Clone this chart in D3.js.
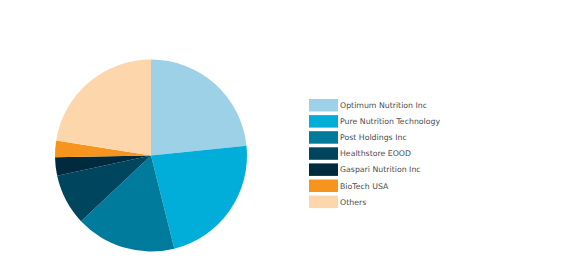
<!DOCTYPE html>
<html>
<head>
<meta charset="utf-8">
<script src="https://cdn.jsdelivr.net/npm/d3@7/dist/d3.min.js"></script>
<style>
  html, body { margin: 0; padding: 0; background: #ffffff; }
  svg { display: block; }
</style>
</head>
<body>
<svg id="chart" width="572" height="260"></svg>
<script>
const categories = ["Optimum Nutrition Inc", "Pure Nutrition Technology", "Post Holdings Inc", "Healthstore EOOD", "Gaspari Nutrition Inc", "BioTech USA", "Others"];
const values = [23.4, 22.7, 16.9, 8.6, 3.1, 2.8, 22.5];
const colors = ["#9dd1e8", "#00aed9", "#007b9b", "#00455e", "#002a3d", "#f7941d", "#fdd6ab"];

const svg = d3.select("#chart");
const cx = 151, cy = 155.5, r = 96;

const pie = d3.pie().sort(null).value(d => d.v);
const arc = d3.arc().innerRadius(0).outerRadius(r);
const data = categories.map((c, i) => ({ c, v: values[i], col: colors[i] }));

svg.append("g").attr("transform", `translate(${cx},${cy})`)
  .selectAll("path").data(pie(data)).join("path")
  .attr("d", arc)
  .attr("fill", d => d.data.col);

const y = d3.scalePoint().domain(categories).range([99, 99 + 16.1 * 6]);
const lg = svg.append("g");
const rows = lg.selectAll("g").data(data).join("g")
  .attr("transform", d => `translate(309,${y(d.c)})`);
rows.append("rect").attr("width", 29).attr("height", 12.5).attr("fill", d => d.col);
rows.append("text").attr("x", 31).attr("y", 6.5)
  .attr("dominant-baseline", "central")
  .attr("font-family", "DejaVu Sans, Verdana, sans-serif")
  .attr("font-size", "7.8px")
  .attr("fill", "#4d4d4d")
  .text(d => d.c);
</script>
</body>
</html>
